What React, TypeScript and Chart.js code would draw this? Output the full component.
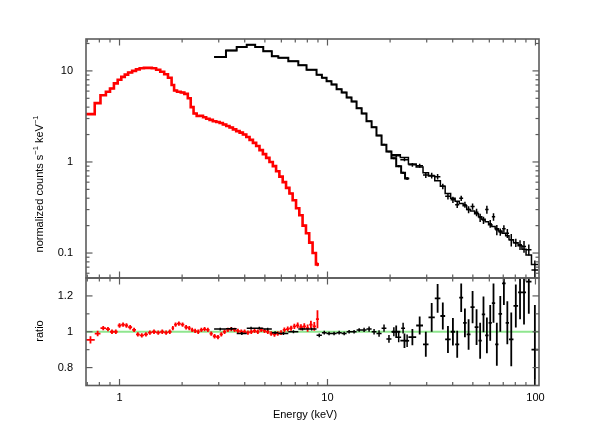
import React, { useEffect, useRef } from "react";
import { Chart, registerables } from "chart.js";

Chart.register(...registerables);

// ---------- axis ranges & ticks ----------
const X_MIN = 0.69;
const X_MAX = 104;
const Y_MIN = 0.0532;
const Y_MAX = 22.4;
const R_MIN = 0.7;
const R_MAX = 1.3;

const xMajorTicks = [1, 10, 100];
const xTickLabels = ["1", "10", "100"];
const xMinorTicks = [0.7, 0.8, 0.9, 2, 3, 4, 5, 6, 7, 8, 9, 20, 30, 40, 50, 60, 70, 80, 90];
const yMajorTicks = [0.1, 1, 10];
const yTickLabels = ["0.1", "1", "10"];
const yMinorTicks = [0.06, 0.07, 0.08, 0.09, 0.2, 0.3, 0.4, 0.5, 0.6, 0.7, 0.8, 0.9, 2, 3, 4, 5, 6, 7, 8, 9, 20];
const rMajorTicks = [0.8, 1, 1.2];
const rTickLabels = ["0.8", "1", "1.2"];
const rMinorTicks = [0.9, 1.1];
const RATIO_REF = 1;

// ---------- red spectrum (0.7-9 keV) ----------
const redEdges = [0.69, 0.76, 0.81, 0.86, 0.9, 0.94, 0.98, 1.02, 1.06, 1.1, 1.15, 1.2, 1.25, 1.31, 1.37, 1.43, 1.5, 1.57, 1.64, 1.71, 1.78, 1.83, 1.89, 1.97, 2.05, 2.13, 2.2, 2.27, 2.35, 2.43, 2.52, 2.61, 2.71, 2.81, 2.92, 3.03, 3.14, 3.26, 3.38, 3.51, 3.64, 3.78, 3.92, 4.07, 4.22, 4.38, 4.54, 4.71, 4.89, 5.07, 5.26, 5.46, 5.66, 5.87, 6.09, 6.32, 6.56, 6.8, 7.06, 7.32, 7.59, 7.88, 8.17, 8.48, 8.8, 9.1];
const redCounts = [3.35, 4.43, 5.4, 5.9, 6.4, 7.3, 8.0, 8.6, 9.1, 9.6, 10.0, 10.4, 10.7, 10.8, 10.8, 10.7, 10.3, 9.8, 9.2, 8.4, 7.0, 6.1, 5.9, 5.8, 5.6, 5.0, 4.0, 3.4, 3.2, 3.22, 3.1, 2.98, 2.9, 2.8, 2.75, 2.68, 2.58, 2.48, 2.39, 2.28, 2.18, 2.1, 2.0, 1.88, 1.75, 1.62, 1.5, 1.35, 1.22, 1.11, 1.0, 0.9, 0.79, 0.69, 0.6, 0.52, 0.45, 0.38, 0.31, 0.26, 0.2, 0.165, 0.13, 0.1, 0.075];
const redRatio = [0.955, 0.99, 1.02, 1.015, 1.0, 1.0, 1.035, 1.04, 1.035, 1.025, 1.01, 0.985, 0.98, 0.985, 0.995, 1.0, 0.995, 1.0, 0.995, 1.0, 1.02, 1.04, 1.045, 1.04, 1.025, 1.02, 1.01, 1.005, 1.0, 1.01, 1.015, 1.01, 0.99, 0.975, 0.97, 0.985, 1.0, 1.01, 1.015, 1.01, 1.005, 1.0, 1.0, 0.995, 1.0, 1.005, 1.0, 1.01, 1.005, 1.0, 0.99, 0.985, 0.99, 0.995, 1.01, 1.015, 1.02, 1.03, 1.035, 1.025, 1.03, 1.02, 1.04, 1.03, 1.07];
const redRatioErr = [0.02, 0.015, 0.012, 0.012, 0.012, 0.012, 0.012, 0.012, 0.012, 0.012, 0.012, 0.012, 0.012, 0.012, 0.012, 0.012, 0.012, 0.012, 0.012, 0.012, 0.012, 0.012, 0.012, 0.012, 0.012, 0.012, 0.012, 0.012, 0.012, 0.012, 0.012, 0.012, 0.012, 0.012, 0.012, 0.012, 0.012, 0.012, 0.012, 0.012, 0.012, 0.012, 0.012, 0.012, 0.012, 0.012, 0.012, 0.012, 0.012, 0.012, 0.013, 0.013, 0.013, 0.013, 0.014, 0.014, 0.014, 0.015, 0.016, 0.017, 0.018, 0.02, 0.022, 0.025, 0.05];

// ---------- black spectrum A (3-25 keV) ----------
const blkAEdges = [2.85, 3.25, 3.66, 4.09, 4.49, 4.91, 5.4, 5.8, 6.48, 7.24, 7.93, 8.86, 9.4, 9.9, 10.45, 11.06, 11.7, 12.36, 13.05, 13.8, 14.6, 15.4, 16.3, 17.2, 18.2, 19.2, 20.3, 21.4, 22.6, 23.6, 24.7];
const blkACounts = [14.2, 16.8, 18.3, 19.4, 18.3, 16.4, 14.5, 13.9, 12.8, 11.5, 10.3, 9.1, 8.4, 7.7, 7.1, 6.3, 5.8, 5.1, 4.6, 3.9, 3.4, 2.8, 2.4, 1.95, 1.55, 1.3, 1.1, 0.9, 0.76, 0.66];
const blkARatio = [1.015, 1.017, 0.99, 1.02, 1.02, 1.015, 0.995, 0.99, 1.0, 1.015, 1.015, 0.98, 0.995, 0.99, 0.99, 0.995, 0.99, 1.0, 1.0, 1.01, 1.01, 1.015, 1.0, 0.99, 1.02, 0.96, 1.0, 0.97, 1.02, 0.95];
const blkARatioErr = [0.008, 0.008, 0.008, 0.008, 0.008, 0.008, 0.008, 0.008, 0.008, 0.008, 0.008, 0.01, 0.01, 0.01, 0.01, 0.01, 0.01, 0.01, 0.01, 0.01, 0.012, 0.015, 0.015, 0.018, 0.02, 0.022, 0.025, 0.028, 0.03, 0.035];

// ---------- black spectrum B (20-100 keV) ----------
const blkBEdges = [20.4, 22.4, 24.5, 26.7, 28.8, 30.6, 32.8, 34.9, 36.8, 39.1, 41.1, 43.0, 44.9, 46.7, 48.7, 51.0, 53.2, 55.2, 57.3, 59.5, 61.7, 64.0, 66.4, 69.1, 71.9, 74.6, 78.4, 82.5, 86.1, 90.1, 95.7, 103.0];
const blkBData = [1.17, 1.06, 0.93, 0.91, 0.72, 0.71, 0.69, 0.54, 0.42, 0.385, 0.34, 0.4, 0.34, 0.3, 0.325, 0.28, 0.245, 0.23, 0.3, 0.21, 0.25, 0.18, 0.17, 0.185, 0.165, 0.14, 0.13, 0.123, 0.118, 0.109, 0.065];
const blkBModel = [1.2, 1.12, 0.95, 0.88, 0.76, 0.7, 0.62, 0.54, 0.45, 0.4, 0.37, 0.35, 0.33, 0.3, 0.29, 0.27, 0.25, 0.235, 0.22, 0.205, 0.195, 0.185, 0.175, 0.165, 0.155, 0.14, 0.13, 0.12, 0.11, 0.095, 0.075];
const blkBRatio = [1.0, 0.95, 0.97, 1.035, 0.93, 1.08, 1.186, 1.088, 0.957, 1.0, 0.93, 1.19, 1.05, 0.985, 1.138, 1.026, 0.95, 1.097, 0.98, 1.05, 1.16, 0.93, 1.1, 1.27, 1.05, 0.957, 1.144, 1.22, 1.22, 1.28, 0.9];
const blkBRatioErr = [0.035, 0.04, 0.045, 0.05, 0.07, 0.08, 0.08, 0.075, 0.075, 0.077, 0.075, 0.08, 0.08, 0.085, 0.09, 0.1, 0.1, 0.1, 0.1, 0.1, 0.11, 0.12, 0.1, 0.12, 0.12, 0.15, 0.12, 0.15, 0.18, 0.18, 0.25];

// ---------- styling ----------
const W = 596;
const H = 443;
const PLOT_LEFT = 86;
const PLOT_RIGHT = 539;
const TOP_Y = 39;
const MID_Y = 278;
const BOT_Y = 385.5;
const FONT = '"Liberation Sans", Arial, Helvetica, sans-serif';
const FRAME_COLOR = "#5c5c5c";
const RED = "#ff0000";
const BLACK = "#000000";
const GREEN = "#8fe68f";

type Pt = { x: number; y: number | null };

function stepPoints(edges: number[], vals: number[]): Pt[] {
  const pts: Pt[] = [];
  vals.forEach((v, i) => {
    pts.push({ x: edges[i], y: v }, { x: edges[i + 1], y: v });
  });
  return pts;
}

function crossPoints(edges: number[], vals: number[], errs: number[]): Pt[] {
  const pts: Pt[] = [];
  vals.forEach((v, i) => {
    const lo = edges[i];
    const hi = edges[i + 1];
    const c = (lo + hi) / 2;
    const e = errs[i];
    pts.push({ x: lo, y: v }, { x: hi, y: v }, { x: hi, y: null });
    pts.push({ x: c, y: v - e }, { x: c, y: v + e }, { x: c, y: null });
  });
  return pts;
}

function relErr(vals: number[], ratio: number[], rErr: number[]): number[] {
  return vals.map((v, i) => (v * rErr[i]) / ratio[i]);
}

function ds(data: Pt[], color: string, width: number, order: number) {
  return {
    data,
    borderColor: color,
    backgroundColor: color,
    borderWidth: width,
    pointRadius: 0,
    pointHoverRadius: 0,
    fill: false,
    tension: 0,
    spanGaps: false,
    order,
  };
}

interface AxisCfg {
  yMajor: number[];
  yMinor: number[];
  yLabels: string[];
  showX: boolean;
  title: (ctx: CanvasRenderingContext2D) => void;
}

function framePlugin(cfg: AxisCfg) {
  return {
    id: "frameTicks",
    afterDraw(chart: any) {
      const { ctx, chartArea: a, scales } = chart;
      const xs = scales.x;
      const ys = scales.y;
      ctx.save();
      ctx.strokeStyle = FRAME_COLOR;
      ctx.lineWidth = 1.2;
      const seg = (x1: number, y1: number, x2: number, y2: number) => {
        ctx.beginPath();
        ctx.moveTo(x1, y1);
        ctx.lineTo(x2, y2);
        ctx.stroke();
      };
      const xt = (v: number, len: number) => {
        const p = xs.getPixelForValue(v);
        if (p <= a.left + 0.5 || p >= a.right - 0.5) return;
        seg(p, a.top, p, a.top + len);
        seg(p, a.bottom, p, a.bottom - len);
      };
      const yt = (v: number, len: number) => {
        const p = ys.getPixelForValue(v);
        if (p <= a.top + 0.5 || p >= a.bottom - 0.5) return;
        seg(a.left, p, a.left + len, p);
        seg(a.right, p, a.right - len, p);
      };
      xMajorTicks.forEach((v) => xt(v, 6.5));
      xMinorTicks.forEach((v) => xt(v, 3.5));
      cfg.yMajor.forEach((v) => yt(v, 6.5));
      cfg.yMinor.forEach((v) => yt(v, 3.5));
      ctx.lineWidth = 1.6;
      ctx.strokeRect(a.left, a.top, a.right - a.left, a.bottom - a.top);

      ctx.fillStyle = "#000";
      ctx.font = `11px ${FONT}`;
      ctx.textBaseline = "middle";
      ctx.textAlign = "right";
      cfg.yMajor.forEach((v, i) => {
        ctx.fillText(cfg.yLabels[i], a.left - 13, ys.getPixelForValue(v));
      });
      if (cfg.showX) {
        ctx.textAlign = "center";
        xMajorTicks.forEach((v, i) => {
          ctx.fillText(xTickLabels[i], xs.getPixelForValue(v), a.bottom + 12);
        });
        ctx.fillText("Energy (keV)", 305, a.bottom + 29);
      }
      cfg.title(ctx);
      ctx.restore();
    },
  };
}

function drawRotated(ctx: CanvasRenderingContext2D, cx: number, cy: number, parts: [string, number, number][]) {
  ctx.save();
  ctx.translate(cx, cy);
  ctx.rotate(-Math.PI / 2);
  ctx.textAlign = "left";
  ctx.textBaseline = "middle";
  ctx.fillStyle = "#000";
  let total = 0;
  parts.forEach(([t, size]) => {
    ctx.font = `${size}px ${FONT}`;
    total += ctx.measureText(t).width;
  });
  let x = -total / 2;
  parts.forEach(([t, size, dy]) => {
    ctx.font = `${size}px ${FONT}`;
    ctx.fillText(t, x, dy);
    x += ctx.measureText(t).width;
  });
  ctx.restore();
}

export default function App() {
  const topRef = useRef<HTMLCanvasElement>(null);
  const botRef = useRef<HTMLCanvasElement>(null);

  useEffect(() => {
    document.body.style.margin = "0";
    const xScale = { type: "logarithmic" as const, min: X_MIN, max: X_MAX, display: false };
    const common = {
      responsive: false,
      animation: false as const,
      devicePixelRatio: 1,
      events: [] as any[],
      plugins: { legend: { display: false }, tooltip: { enabled: false } },
    };

    const topChart = new Chart(topRef.current!, {
      type: "line",
      data: {
        datasets: [
          ds(stepPoints(redEdges, redCounts), RED, 2.6, 6),
          ds(crossPoints(redEdges, redCounts, relErr(redCounts, redRatio, redRatioErr)), RED, 1.5, 5),
          ds(stepPoints(blkAEdges, blkACounts), BLACK, 2, 4),
          ds(crossPoints(blkAEdges, blkACounts, relErr(blkACounts, blkARatio, blkARatioErr)), BLACK, 1.5, 3),
          ds(stepPoints(blkBEdges, blkBModel), BLACK, 1.5, 2),
          ds(crossPoints(blkBEdges, blkBData, relErr(blkBData, blkBRatio, blkBRatioErr)), BLACK, 1.5, 1),
        ] as any,
      },
      options: {
        ...common,
        layout: { padding: { left: PLOT_LEFT, right: W - PLOT_RIGHT, top: TOP_Y, bottom: H - MID_Y } },
        scales: {
          x: xScale,
          y: { type: "logarithmic", min: Y_MIN, max: Y_MAX, display: false },
        },
      } as any,
      plugins: [
        framePlugin({
          yMajor: yMajorTicks,
          yMinor: yMinorTicks,
          yLabels: yTickLabels,
          showX: false,
          title: (ctx) =>
            drawRotated(ctx, 40, 184, [
              ["normalized counts s", 11, 0],
              ["\u22121", 7.5, -4],
              [" keV", 11, 0],
              ["\u22121", 7.5, -4],
            ]),
        }),
      ],
    });

    const botChart = new Chart(botRef.current!, {
      type: "line",
      data: {
        datasets: [
          ds([{ x: X_MIN, y: RATIO_REF }, { x: X_MAX, y: RATIO_REF }], GREEN, 2, 9),
          ds(crossPoints(redEdges, redRatio, redRatioErr), RED, 1.8, 3),
          ds(crossPoints(blkAEdges, blkARatio, blkARatioErr), BLACK, 1.5, 2),
          ds(crossPoints(blkBEdges, blkBRatio, blkBRatioErr), BLACK, 1.8, 1),
        ] as any,
      },
      options: {
        ...common,
        layout: { padding: { left: PLOT_LEFT, right: W - PLOT_RIGHT, top: MID_Y, bottom: H - BOT_Y } },
        scales: {
          x: xScale,
          y: { type: "linear", min: R_MIN, max: R_MAX, display: false },
        },
      } as any,
      plugins: [
        framePlugin({
          yMajor: rMajorTicks,
          yMinor: rMinorTicks,
          yLabels: rTickLabels,
          showX: true,
          title: (ctx) => drawRotated(ctx, 40, 331, [["ratio", 11, 0]]),
        }),
      ],
    });

    return () => {
      topChart.destroy();
      botChart.destroy();
    };
  }, []);

  return (
    <div style={{ position: "fixed", left: 0, top: 0, width: W, height: H, background: "#fff" }}>
      <canvas ref={botRef} width={W} height={H} style={{ position: "absolute", left: 0, top: 0 }} />
      <canvas ref={topRef} width={W} height={H} style={{ position: "absolute", left: 0, top: 0 }} />
    </div>
  );
}
